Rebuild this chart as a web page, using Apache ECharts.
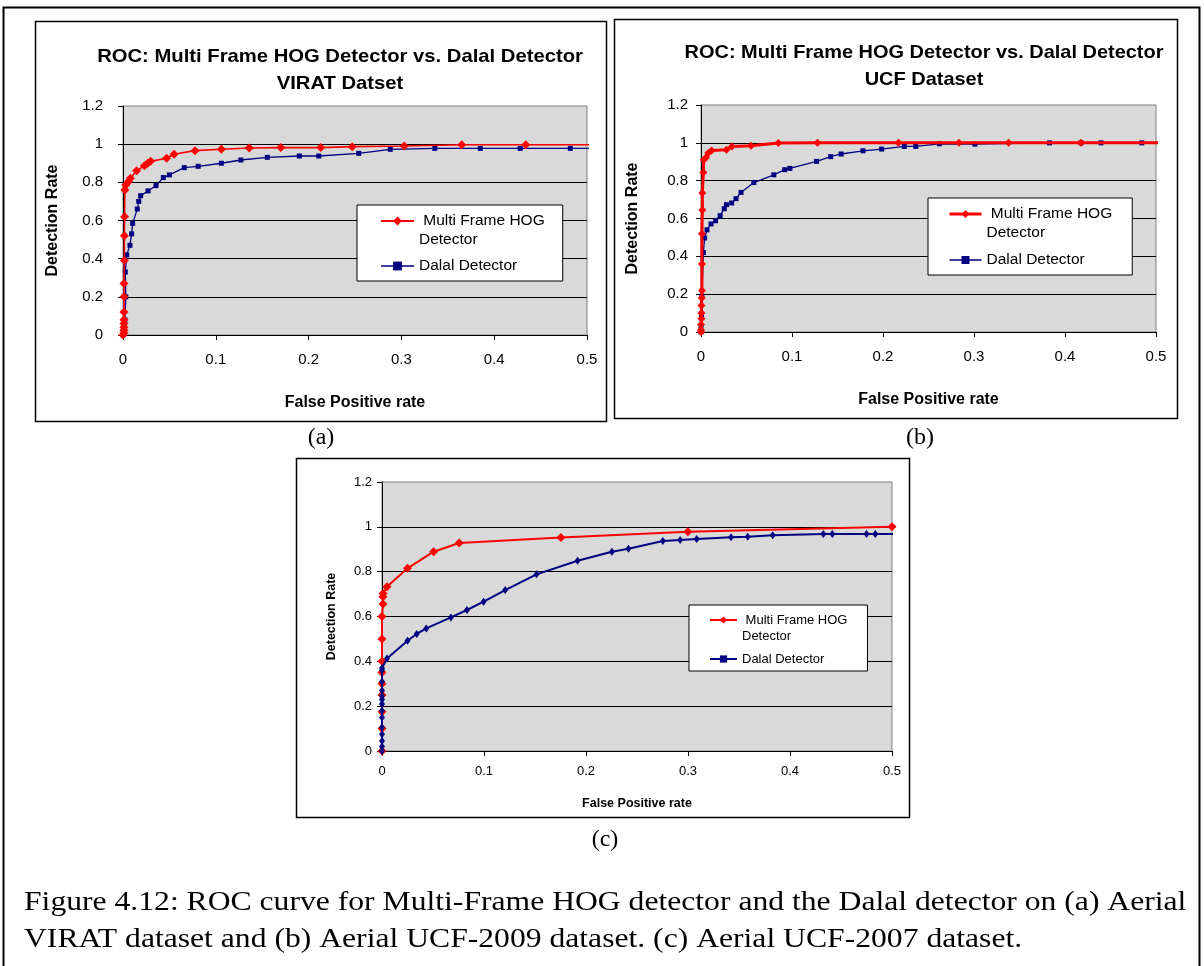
<!DOCTYPE html>
<html>
<head>
<meta charset="utf-8">
<title>ROC: Multi Frame HOG Detector vs. Dalal Detector</title>
<script src="https://cdn.jsdelivr.net/npm/echarts@6.0.0/dist/echarts.min.js"></script>
<style>
  html, body { margin: 0; padding: 0; background: #fff; }
  #fig { width: 1204px; height: 966px; }
</style>
</head>
<body>
<div id="fig"></div>
<script>
// ---- (a) VIRAT dataset ----
const viratHogFpr = [0, 0.001, 0.001, 0.001, 0.001, 0.001, 0.001, 0.001, 0.001, 0.0015, 0.0015, 0.0017, 0.002, 0.003, 0.0057, 0.008, 0.0147, 0.023, 0.0266, 0.0298, 0.047, 0.055, 0.0776, 0.106, 0.136, 0.17, 0.213, 0.247, 0.303, 0.365, 0.434, 0.55];
const viratHogTpr = [0, 0.01, 0.025, 0.04, 0.06, 0.08, 0.12, 0.2, 0.27, 0.39, 0.52, 0.62, 0.76, 0.786, 0.803, 0.821, 0.861, 0.887, 0.9, 0.91, 0.926, 0.947, 0.966, 0.973, 0.98, 0.982, 0.982, 0.987, 0.99, 0.997, 0.997, 0.997];
const viratDalalFpr = [0, 0.0005, 0.001, 0.002, 0.003, 0.0025, 0.004, 0.0075, 0.0093, 0.0104, 0.0154, 0.017, 0.019, 0.027, 0.0356, 0.0435, 0.05, 0.066, 0.081, 0.106, 0.127, 0.1555, 0.19, 0.211, 0.254, 0.288, 0.336, 0.385, 0.428, 0.482, 0.55];
const viratDalalTpr = [0, 0.02, 0.05, 0.08, 0.2, 0.33, 0.42, 0.47, 0.53, 0.585, 0.66, 0.7, 0.73, 0.755, 0.783, 0.825, 0.839, 0.877, 0.884, 0.9, 0.917, 0.931, 0.938, 0.938, 0.952, 0.973, 0.978, 0.978, 0.978, 0.978, 0.978];

// ---- (b) UCF-2009 dataset ----
const ucfHogFpr = [0, 0, 0, 0.0005, 0.0005, 0.0005, 0.0008, 0.001, 0.001, 0.001, 0.0015, 0.0015, 0.0026, 0.003, 0.0055, 0.008, 0.0117, 0.028, 0.034, 0.055, 0.085, 0.128, 0.217, 0.2835, 0.338, 0.4176, 0.55];
const ucfHogTpr = [0, 0.01, 0.04, 0.07, 0.1, 0.14, 0.18, 0.22, 0.36, 0.52, 0.645, 0.735, 0.843, 0.91, 0.923, 0.946, 0.96, 0.963, 0.98, 0.985, 0.999, 1.0, 1.0, 1.0, 1.0, 1.0, 1.0];
const ucfDalalFpr = [0, 0, 0.0005, 0.001, 0.0026, 0.004, 0.0066, 0.011, 0.016, 0.021, 0.0256, 0.028, 0.0337, 0.0385, 0.044, 0.058, 0.08, 0.092, 0.0977, 0.127, 0.1425, 0.154, 0.178, 0.1985, 0.2234, 0.236, 0.262, 0.301, 0.383, 0.4176, 0.4396, 0.4843];
const ucfDalalTpr = [0, 0.03, 0.08, 0.19, 0.42, 0.497, 0.54, 0.571, 0.588, 0.615, 0.652, 0.673, 0.682, 0.705, 0.738, 0.79, 0.831, 0.858, 0.865, 0.902, 0.927, 0.941, 0.958, 0.967, 0.981, 0.981, 0.995, 0.993, 1.0, 1.0, 1.0, 1.0];

// ---- (c) UCF-2007 dataset ----
const ucf07HogFpr = [0, 0, 0, 0, 0, 0, 0, 0, 0, 0.001, 0.001, 0.001, 0.0049, 0.025, 0.0506, 0.0757, 0.1754, 0.2998, 0.5];
const ucf07HogTpr = [0, 0.1, 0.175, 0.25, 0.3, 0.35, 0.4, 0.5, 0.6, 0.656, 0.688, 0.703, 0.733, 0.815, 0.889, 0.928, 0.952, 0.978, 1.0];
const ucf07DalalFpr = [0, 0, 0, 0, 0, 0, 0, 0, 0, 0, 0, 0, 0, 0, 0.0049, 0.025, 0.034, 0.0434, 0.0676, 0.0833, 0.0996, 0.1208, 0.1515, 0.1917, 0.2254, 0.2416, 0.2753, 0.2923, 0.3085, 0.3422, 0.3585, 0.383, 0.4327, 0.4415, 0.475, 0.4836, 0.52];
const ucf07DalalTpr = [0, 0.02, 0.045, 0.075, 0.105, 0.15, 0.18, 0.21, 0.23, 0.245, 0.27, 0.31, 0.36, 0.37, 0.413, 0.492, 0.522, 0.547, 0.596, 0.629, 0.666, 0.718, 0.788, 0.849, 0.889, 0.902, 0.937, 0.941, 0.946, 0.953, 0.956, 0.962, 0.968, 0.968, 0.968, 0.968, 0.968];

// ---- axis ticks and text ----
const fprTicks = { min: 0, max: 0.5, interval: 0.1 };
const tprTicks = { min: 0, max: 1.2, interval: 0.2 };
const hogName = 'Multi Frame HOG Detector';
const dalalName = 'Dalal Detector';
const xName = 'False Positive rate';
const yName = 'Detection Rate';
const chartTitle = 'ROC: Multi Frame HOG Detector vs. Dalal Detector';
const subTitles = ['VIRAT Datset', 'UCF Dataset'];
const panelTags = ['(a)', '(b)', '(c)'];
const captionLines = [
  'Figure 4.12: ROC curve for Multi-Frame HOG detector and the Dalal detector on (a) Aerial',
  'VIRAT dataset and (b) Aerial UCF-2009 dataset. (c) Aerial UCF-2007 dataset.'
];

const RED = '#ff0000';
const NAVY = '#000080';
const SANS = '"Liberation Sans", Arial, sans-serif';
const SERIF = '"Liberation Serif", "Times New Roman", serif';

const zip = (xs, ys) => xs.map((x, i) => [x, ys[i]]);

// panel layout: plot rectangles and text sizes
const panels = [
  { grid: { left: 123, top: 106, width: 464, height: 229 }, tick: 15, name: 16, xMargin: 17, yMargin: 20, xGap: 60, yGap: 62 },
  { grid: { left: 701, top: 105, width: 455, height: 227 }, tick: 15, name: 16, xMargin: 17, yMargin: 13, xGap: 60, yGap: 60 },
  { grid: { left: 382, top: 482, width: 510, height: 269 }, tick: 13, name: 12.5, xMargin: 14, yMargin: 10, xGap: 46, yGap: 44 }
];

const grids = panels.map(p => Object.assign({
  show: true, backgroundColor: '#d9d9d9', borderColor: '#808080', borderWidth: 1
}, p.grid));

const xAxes = panels.map((p, i) => Object.assign({
  gridIndex: i, type: 'value',
  name: xName, nameLocation: 'middle', nameGap: p.xGap,
  nameTextStyle: { fontFamily: SANS, fontWeight: 'bold', fontSize: p.name, color: '#000' },
  axisLine: { show: true, onZero: false, lineStyle: { color: '#000', width: 1 } },
  axisTick: { show: true, length: 5, lineStyle: { color: '#000' } },
  axisLabel: { margin: p.xMargin, fontFamily: SANS, fontSize: p.tick, color: '#000' },
  splitLine: { show: false }
}, fprTicks));

const yAxes = panels.map((p, i) => Object.assign({
  gridIndex: i, type: 'value',
  name: yName, nameLocation: 'middle', nameGap: p.yGap,
  nameTextStyle: { fontFamily: SANS, fontWeight: 'bold', fontSize: p.name, color: '#000' },
  axisLine: { show: true, onZero: false, lineStyle: { color: '#000', width: 1 } },
  axisTick: { show: true, length: 5, lineStyle: { color: '#000' } },
  axisLabel: { margin: p.yMargin, fontFamily: SANS, fontSize: p.tick, color: '#000' },
  splitLine: { show: true, showMaxLine: false, lineStyle: { color: '#000', width: 1 } }
}, tprTicks));

function curve(name, idx, xs, ys, o) {
  return {
    type: 'line', name: name, xAxisIndex: idx, yAxisIndex: idx,
    data: zip(xs, ys), clip: true, showAllSymbol: true,
    symbol: o.symbol, symbolSize: o.size, z: o.z,
    lineStyle: { color: o.color, width: o.width },
    itemStyle: { color: o.color },
    emphasis: { disabled: true }
  };
}

const series = [
  curve(dalalName, 0, viratDalalFpr, viratDalalTpr, { symbol: 'rect', size: 5, color: NAVY, width: 1.3, z: 2 }),
  curve(hogName, 0, viratHogFpr, viratHogTpr, { symbol: 'diamond', size: 9, color: RED, width: 1.6, z: 3 }),
  curve(dalalName, 1, ucfDalalFpr, ucfDalalTpr, { symbol: 'rect', size: 5, color: NAVY, width: 1.3, z: 2 }),
  curve(hogName, 1, ucfHogFpr, ucfHogTpr, { symbol: 'diamond', size: 8, color: RED, width: 3, z: 3 }),
  curve(hogName, 2, ucf07HogFpr, ucf07HogTpr, { symbol: 'diamond', size: 9, color: RED, width: 2, z: 2 }),
  curve(dalalName, 2, ucf07DalalFpr, ucf07DalalTpr, { symbol: 'diamond', size: [6, 8], color: NAVY, width: 2, z: 3 })
];

// legend boxes; the leading blank line keeps the marker beside the first text line
function legendBox(o) {
  return {
    orient: 'vertical', left: o.left, top: o.top, selectedMode: false,
    itemWidth: o.itemWidth, itemHeight: o.itemHeight, itemGap: o.gap,
    padding: o.padding,
    backgroundColor: '#fff', borderColor: '#000', borderWidth: 1,
    textStyle: { fontFamily: SANS, fontSize: o.fontSize, lineHeight: o.lineHeight, color: '#000' },
    formatter: n => (n === hogName ? ' \n Multi Frame HOG\nDetector' : n),
    data: [
      { name: hogName, lineStyle: { width: o.hogWidth } },
      { name: dalalName, lineStyle: { width: o.dalalWidth } }
    ]
  };
}

const legends = [
  legendBox({ left: 357, top: 205, itemWidth: 33, itemHeight: 11, gap: 7, padding: [-12.5, 18, 5.5, 23], fontSize: 15.5, lineHeight: 19, hogWidth: 2, dalalWidth: 1.3 }),
  legendBox({ left: 928, top: 198, itemWidth: 32, itemHeight: 10, gap: 8, padding: [-12.5, 20, 5.5, 20], fontSize: 15.5, lineHeight: 19, hogWidth: 3, dalalWidth: 1.3 }),
  legendBox({ left: 689, top: 605, itemWidth: 27, itemHeight: 9, gap: 7, padding: [-9, 20, 4, 20], fontSize: 13, lineHeight: 16, hogWidth: 2, dalalWidth: 2 })
];

function frame(x, y, w, h, lw) {
  return { type: 'rect', silent: true, z: 0, shape: { x: x, y: y, width: w, height: h },
           style: { fill: 'none', stroke: '#000', lineWidth: lw } };
}
function label(text, x, y, font, align, sx) {
  return { type: 'text', silent: true, x: x, y: y, z: 10, scaleX: sx || 1,
           style: { text: text, font: font, fill: '#000', align: align || 'center', verticalAlign: 'middle' } };
}

const graphics = [
  frame(3.5, 7.5, 1196, 980, 2),
  frame(35.5, 21.5, 571, 400, 1.5),
  frame(614.5, 19.5, 563, 399, 1.5),
  frame(296.5, 458.5, 613, 359, 1.5),
  label(chartTitle, 340, 57, 'bold 19px ' + SANS, 'center', 1.065),
  label(subTitles[0], 340, 84, 'bold 19px ' + SANS, 'center', 1.065),
  label(chartTitle, 924, 53, 'bold 19px ' + SANS, 'center', 1.05),
  label(subTitles[1], 924, 80, 'bold 19px ' + SANS, 'center', 1.05),
  label(panelTags[0], 321, 438, '24px ' + SERIF),
  label(panelTags[1], 920, 438, '24px ' + SERIF),
  label(panelTags[2], 605, 840, '24px ' + SERIF),
  label(captionLines[0], 24, 903, '28px ' + SERIF, 'left', 1.13),
  label(captionLines[1], 24, 940, '28px ' + SERIF, 'left', 1.13)
];

const chart = echarts.init(document.getElementById('fig'), null, { renderer: 'canvas' });
chart.setOption({
  animation: false,
  backgroundColor: '#fff',
  grid: grids,
  xAxis: xAxes,
  yAxis: yAxes,
  legend: legends,
  series: series,
  graphic: graphics
});
</script>
</body>
</html>
